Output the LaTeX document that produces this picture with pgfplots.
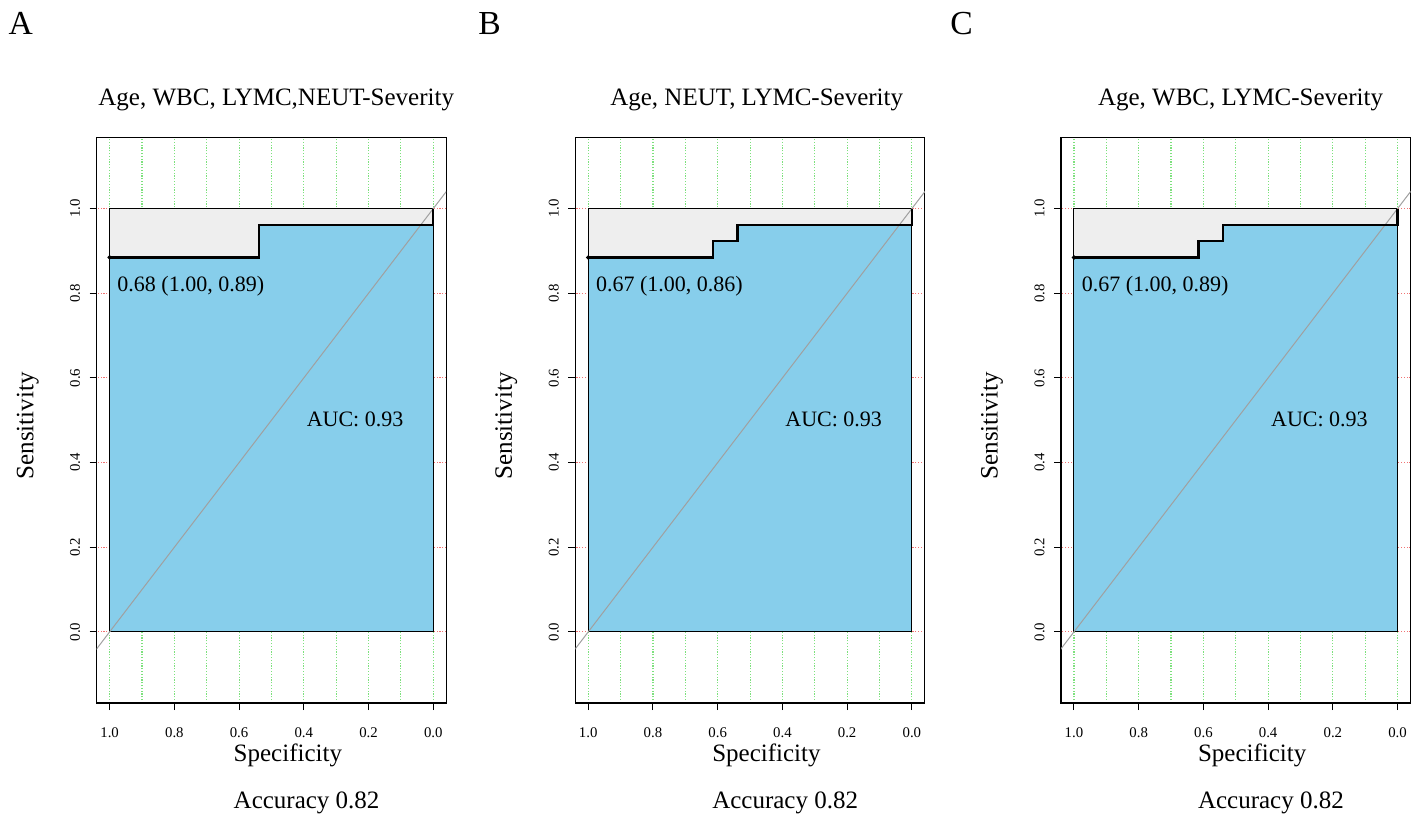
\documentclass[border=0pt]{standalone}
\usepackage{pgfplots}
\pgfplotsset{compat=1.18}
\usepackage{fontspec}
\setmainfont{Liberation Serif}
\definecolor{skyblue}{RGB}{135,206,235}
\definecolor{maxgrey}{RGB}{238,238,238}
\definecolor{gridgreen}{RGB}{125,225,125}
\definecolor{gridred}{RGB}{240,115,115}
\definecolor{diaggrey}{RGB}{160,160,160}
\pgfplotsset{
 rocaxis/.style={
  scale only axis, width=174.75pt, height=282.75pt, anchor=south west,
  x dir=reverse, xmin=-0.04, xmax=1.04, ymin=-0.168, ymax=1.168,
  enlargelimits=false,
  xtick={0,0.2,0.4,0.6,0.8,1}, xticklabels={0.0,0.2,0.4,0.6,0.8,1.0},
  ytick={0,0.2,0.4,0.6,0.8,1}, yticklabels={0.0,0.2,0.4,0.6,0.8,1.0},
  minor x tick num=1, minor tick length=0pt,
  xmajorgrids, xminorgrids, ymajorgrids,
  x grid style={gridgreen, dash pattern=on 0.6pt off 0.8pt, line width=0.55pt},
  y grid style={gridred, dash pattern=on 0.6pt off 0.8pt, line width=0.55pt},
  tick align=outside, xtick pos=left, ytick pos=left,
  major tick length=3.5pt,
  tick style={black, line width=0.5pt},
  axis line style={line width=0.6pt},
  ticklabel style={font=\fontsize{7.4}{8}\selectfont},
  xticklabel style={anchor=base, yshift=-13.5pt},
  yticklabel style={xshift=-4.85pt, rotate=90, anchor=base},
 }
}
\newcommand{\annfont}{\fontsize{11}{13}\selectfont}
\newcommand{\labfont}{\fontsize{12.5}{15}\selectfont}
\begin{document}
\begin{tikzpicture}
\useasboundingbox (0,0) rectangle (708.5pt,406.5pt);
% ---------- A ----------
\begin{axis}[rocaxis, name=A, at={(48.35pt,55pt)}]
\addplot[draw=black, line width=0.5pt, fill=maxgrey] coordinates {(1,0) (0,0) (0,1) (1,1)} -- cycle;
\addplot[draw=black, line width=0.5pt, fill=skyblue] coordinates {(1,0) (1,0.8846) (0.5385,0.8846) (0.5385,0.9615) (0,0.9615) (0,0)} -- cycle;
\addplot[diaggrey, line width=0.5pt] coordinates {(1.3,-0.3) (-0.3,1.3)};
\addplot[black, line width=1.1pt] coordinates {(1,0.8846) (0.5385,0.8846) (0.5385,0.9615) (0,0.9615) (0,1)};
\addplot[only marks, mark=*, mark size=0.9pt, black] coordinates {(1,0.8846)};
\node[anchor=base west, inner sep=0pt, font=\annfont] at (axis cs:0.977,0.803) {0.68 (1.00, 0.89)};
\node[anchor=base west, inner sep=0pt, font=\annfont] at (axis cs:0.392,0.485) {AUC: 0.93};
\end{axis}
% ---------- B ----------
\begin{axis}[rocaxis, name=B, at={(287.65pt,55pt)}]
\addplot[draw=black, line width=0.5pt, fill=maxgrey] coordinates {(1,0) (0,0) (0,1) (1,1)} -- cycle;
\addplot[draw=black, line width=0.5pt, fill=skyblue] coordinates {(1,0) (1,0.8846) (0.6154,0.8846) (0.6154,0.9231) (0.5385,0.9231) (0.5385,0.9615) (0,0.9615) (0,0)} -- cycle;
\addplot[diaggrey, line width=0.5pt] coordinates {(1.3,-0.3) (-0.3,1.3)};
\addplot[black, line width=1.1pt] coordinates {(1,0.8846) (0.6154,0.8846) (0.6154,0.9231) (0.5385,0.9231) (0.5385,0.9615) (0,0.9615) (0,1)};
\addplot[only marks, mark=*, mark size=0.9pt, black] coordinates {(1,0.8846)};
\node[anchor=base west, inner sep=0pt, font=\annfont] at (axis cs:0.977,0.803) {0.67 (1.00, 0.86)};
\node[anchor=base west, inner sep=0pt, font=\annfont] at (axis cs:0.392,0.485) {AUC: 0.93};
\end{axis}
% ---------- C ----------
\begin{axis}[rocaxis, name=C, at={(530.5pt,55pt)}]
\addplot[draw=black, line width=0.5pt, fill=maxgrey] coordinates {(1,0) (0,0) (0,1) (1,1)} -- cycle;
\addplot[draw=black, line width=0.5pt, fill=skyblue] coordinates {(1,0) (1,0.8846) (0.6154,0.8846) (0.6154,0.9231) (0.5385,0.9231) (0.5385,0.9615) (0,0.9615) (0,0)} -- cycle;
\addplot[diaggrey, line width=0.5pt] coordinates {(1.3,-0.3) (-0.3,1.3)};
\addplot[black, line width=1.1pt] coordinates {(1,0.8846) (0.6154,0.8846) (0.6154,0.9231) (0.5385,0.9231) (0.5385,0.9615) (0,0.9615) (0,1)};
\addplot[only marks, mark=*, mark size=0.9pt, black] coordinates {(1,0.8846)};
\node[anchor=base west, inner sep=0pt, font=\annfont] at (axis cs:0.977,0.803) {0.67 (1.00, 0.89)};
\node[anchor=base west, inner sep=0pt, font=\annfont] at (axis cs:0.392,0.485) {AUC: 0.93};
\end{axis}
% ---------- texts ----------
\node[anchor=base west, inner sep=0pt, font=\fontsize{16.8}{20}\selectfont] at (4.15pt,389pt) {A};
\node[anchor=base west, inner sep=0pt, font=\fontsize{16.8}{20}\selectfont] at (239pt,389pt) {B};
\node[anchor=base west, inner sep=0pt, font=\fontsize{16.8}{20}\selectfont] at (475pt,389pt) {C};
\node[anchor=base, inner sep=0pt, font=\labfont] at (138.1pt,353.5pt) {Age, WBC, LYMC,NEUT-Severity};
\node[anchor=base, inner sep=0pt, font=\labfont] at (378.35pt,353.5pt) {Age, NEUT, LYMC-Severity};
\node[anchor=base, inner sep=0pt, font=\labfont] at (620.25pt,353.5pt) {Age, WBC, LYMC-Severity};
\node[anchor=base, inner sep=0pt, rotate=90, font=\labfont] at (16.65pt,193.5pt) {Sensitivity};
\node[anchor=base, inner sep=0pt, rotate=90, font=\labfont] at (255.95pt,193.5pt) {Sensitivity};
\node[anchor=base, inner sep=0pt, rotate=90, font=\labfont] at (498.8pt,193.5pt) {Sensitivity};
\node[anchor=base west, inner sep=0pt, font=\labfont] at (116.65pt,25.65pt) {Specificity};
\node[anchor=base west, inner sep=0pt, font=\labfont] at (355.95pt,25.65pt) {Specificity};
\node[anchor=base west, inner sep=0pt, font=\labfont] at (598.8pt,25.65pt) {Specificity};
\node[anchor=base west, inner sep=0pt, font=\labfont] at (116.65pt,2.35pt) {Accuracy 0.82};
\node[anchor=base west, inner sep=0pt, font=\labfont] at (355.95pt,2.35pt) {Accuracy 0.82};
\node[anchor=base west, inner sep=0pt, font=\labfont] at (598.8pt,2.35pt) {Accuracy 0.82};
\end{tikzpicture}
\end{document}
